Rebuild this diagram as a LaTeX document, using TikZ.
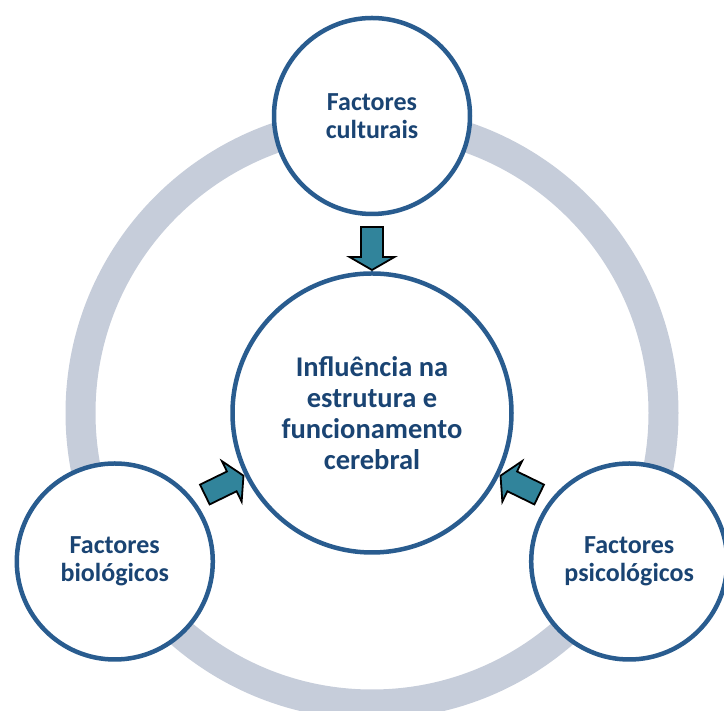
\documentclass[tikz,border=0pt]{standalone}
\usepackage{fontspec}
\setmainfont{Carlito}
\usepackage{tikz}
\usetikzlibrary{positioning}
\definecolor{ringgray}{RGB}{198,205,218}
\definecolor{borderblue}{RGB}{41,92,143}
\definecolor{textblue}{RGB}{26,68,115}
\definecolor{arrowteal}{RGB}{49,132,155}

\begin{document}
\begin{tikzpicture}[x=1pt, y=1pt,
  factor/.style={circle, draw=borderblue, line width=4.5pt, fill=white, minimum size=196pt, inner sep=0pt, align=center, text=textblue, font=\bfseries\fontsize{26}{28}\selectfont},
  centre/.style={factor, minimum size=279pt, font=\bfseries\fontsize{28.5}{31}\selectfont},
  seta/.style={draw=black, line width=1.8pt, fill=arrowteal, line join=miter}]
\useasboundingbox (0,0) rectangle (724,711);
\coordinate (mid) at (372,298);

% grey ring behind the circles
\draw[ringgray, line width=30pt] (mid) circle (291.5);

\node[centre] (brain) at (mid) {Influência na\\estrutura e\\funcionamento\\cerebral};
\node[factor] (cult) at ([shift={(90:297)}]mid) {Factores\\culturais};
\node[factor] (bio) at ([shift={(210:297)}]mid) {Factores\\biológicos};
\node[factor] (psi) at ([shift={(330:297)}]mid) {Factores\\psicológicos};

% block arrows pointing at the centre
\draw[seta, shift={(brain.center)}, rotate=90] (143,0) -- (156,22.5) -- (156,11) -- (186,11) -- (186,-11) -- (156,-11) -- (156,-22.5) -- cycle;
\draw[seta, shift={(brain.center)}, rotate=206] (143,0) -- (156,22.5) -- (156,11) -- (186,11) -- (186,-11) -- (156,-11) -- (156,-22.5) -- cycle;
\draw[seta, shift={(brain.center)}, rotate=334] (143,0) -- (156,22.5) -- (156,11) -- (186,11) -- (186,-11) -- (156,-11) -- (156,-22.5) -- cycle;

\end{tikzpicture}
\end{document}
